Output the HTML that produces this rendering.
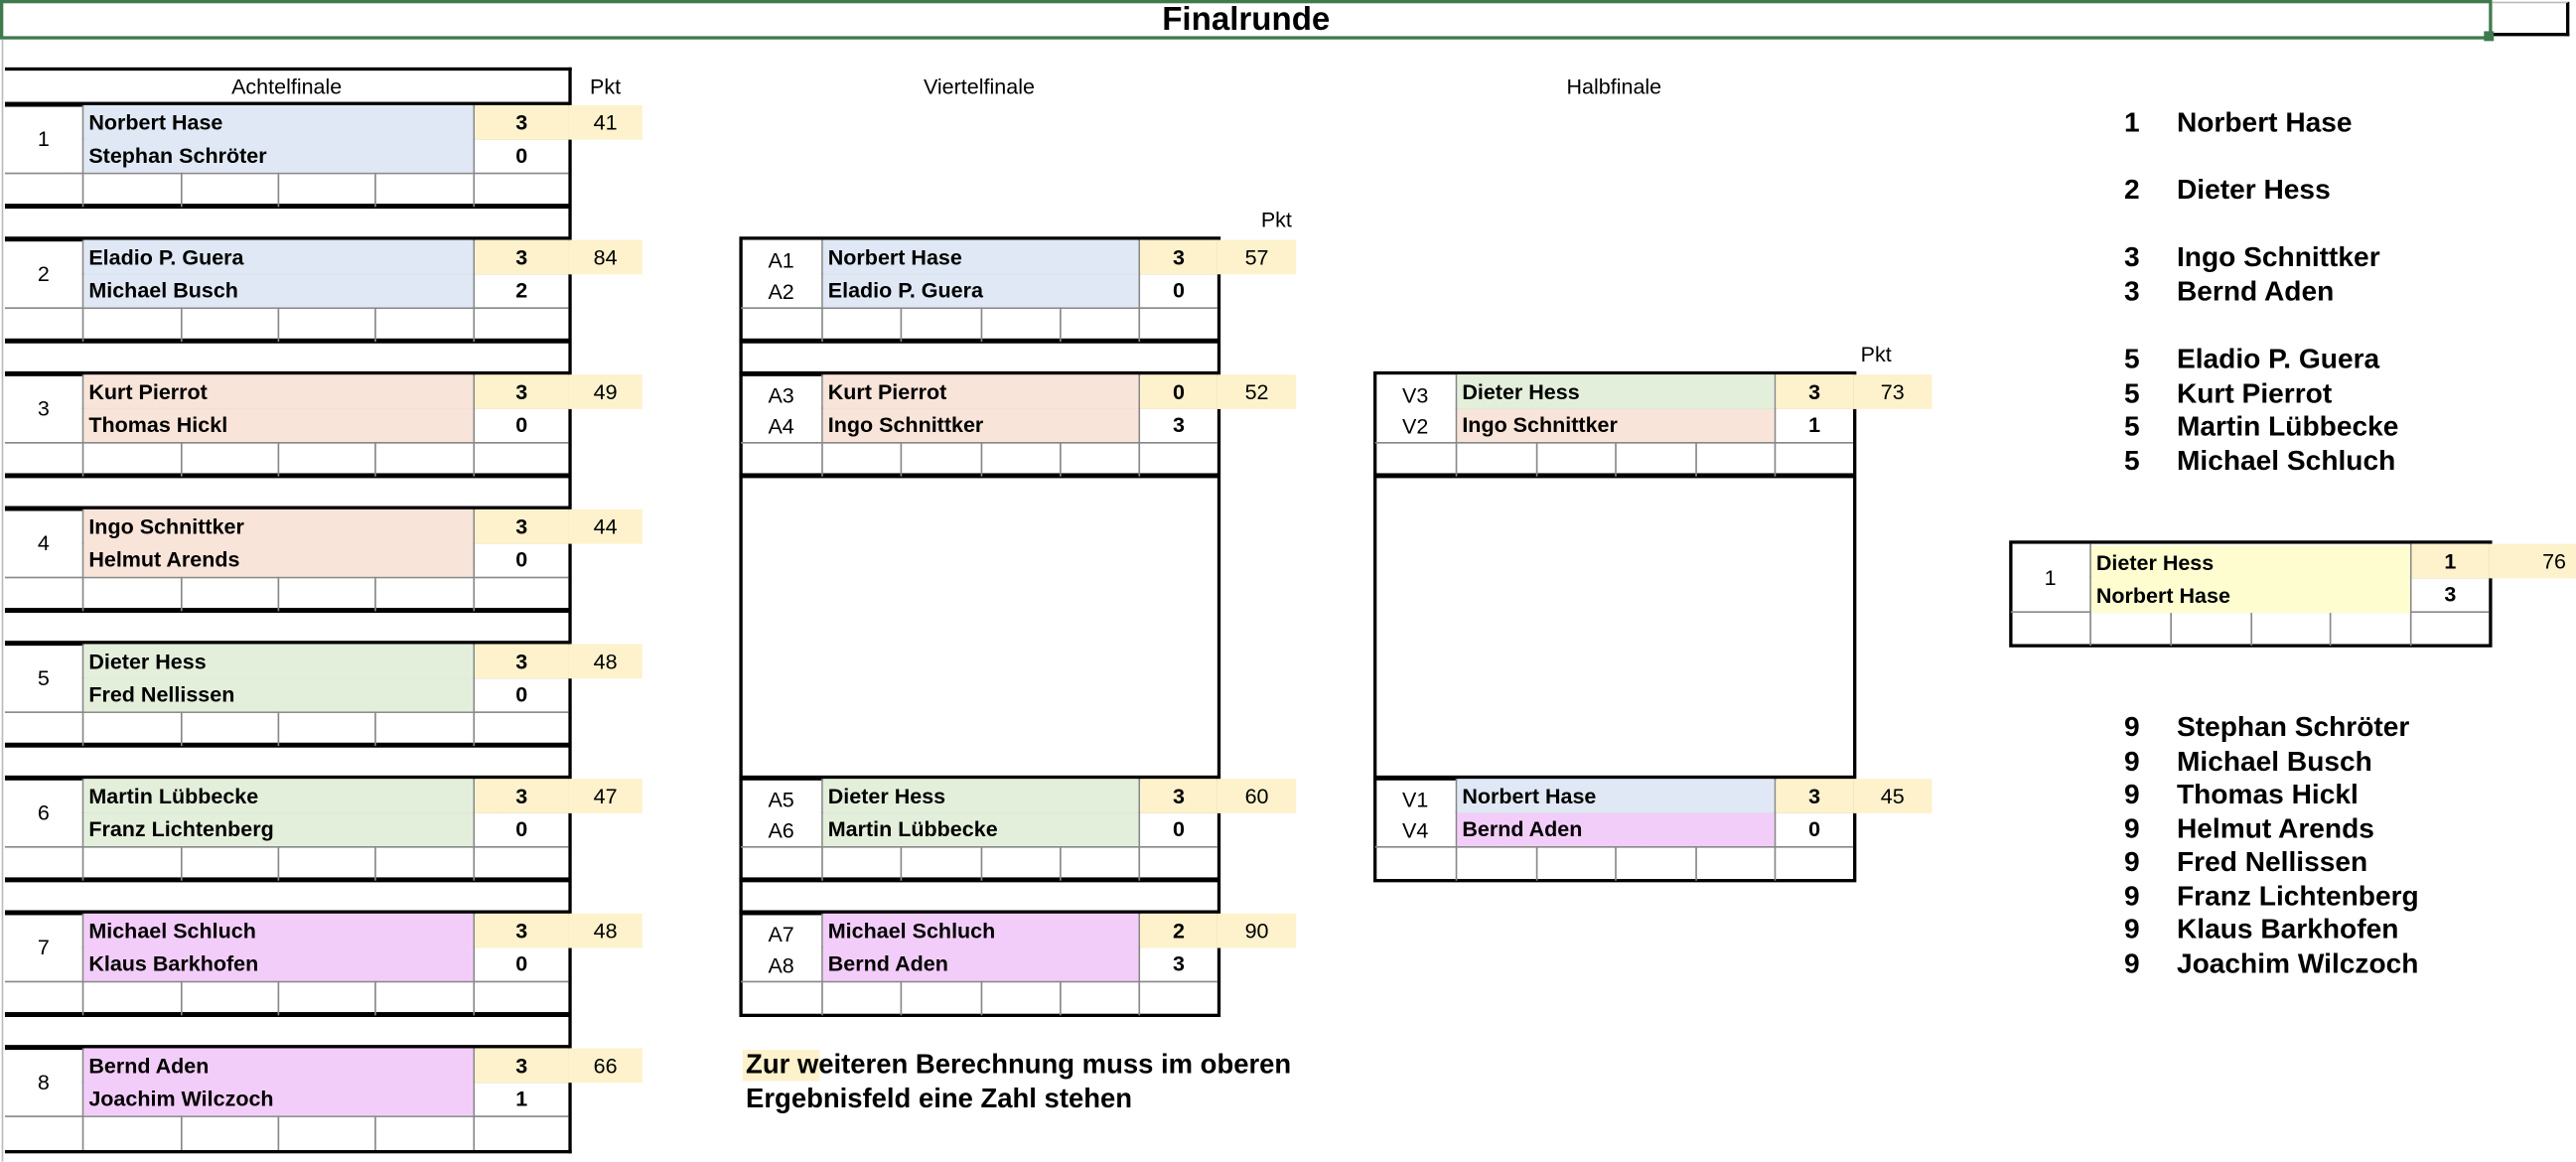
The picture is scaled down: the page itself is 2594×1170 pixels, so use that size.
<!DOCTYPE html>
<html><head><meta charset="utf-8">
<style>
html,body{margin:0;padding:0;background:#fff;width:2594px;height:1170px;overflow:hidden}
#w{position:absolute;left:0;top:0;width:1568px;height:707px;transform:scale(1.6543);transform-origin:0 0;font-family:"Liberation Sans",Arial,sans-serif;color:#000}
#w div{position:absolute;box-sizing:border-box}
.g{height:62px}
.g div{height:20.5px;display:flex;align-items:center;font-size:13px}
.nm{font-weight:bold;padding-left:3px;white-space:nowrap}
.sc{justify-content:center;font-weight:bold}
.pk{justify-content:center;background:#fdf2cc}
.y{background:#fdf2cc}
.bl{background:#dfe8f4}.pe{background:#f8e4d8}.gr{background:#e3efdb}.pi{background:#f3cdf9}.fy{background:#fefdd0}
.num{height:41px!important;justify-content:center}
.lb{justify-content:center}
.a{left:3px;width:343px;
background:linear-gradient(#888,#888) 47px 20px/296px 1px no-repeat,linear-gradient(#888,#888) 0 40.5px/100% 1px no-repeat,
linear-gradient(#888,#888) 47px 0/1px 100% no-repeat,linear-gradient(#888,#888) 285px 0/1px 100% no-repeat,
linear-gradient(#888,#888) 107px 41px/1px 21px no-repeat,linear-gradient(#888,#888) 166px 41px/1px 21px no-repeat,linear-gradient(#888,#888) 225px 41px/1px 21px no-repeat}
.a .num{left:0;width:47px}
.a .nm{left:48px;width:237px}
.a .sc{left:286px;width:57px}
.a .pk{left:343px;width:45px}
.v{left:451px;width:290px;
background:linear-gradient(#888,#888) 49px 20px/241px 1px no-repeat,linear-gradient(#888,#888) 0 40.5px/100% 1px no-repeat,
linear-gradient(#888,#888) 49px 0/1px 100% no-repeat,linear-gradient(#888,#888) 242px 0/1px 100% no-repeat,
linear-gradient(#888,#888) 97px 41px/1px 21px no-repeat,linear-gradient(#888,#888) 146px 41px/1px 21px no-repeat,linear-gradient(#888,#888) 194px 41px/1px 21px no-repeat}
.v .lb{left:0;width:49px}
.v .nm{left:50px;width:192px}
.v .sc{left:243px;width:47px}
.v .pk{left:290px;width:48px}
.h{left:837px;width:291px;
background:linear-gradient(#888,#888) 49px 20px/242px 1px no-repeat,linear-gradient(#888,#888) 0 40.5px/100% 1px no-repeat,
linear-gradient(#888,#888) 49px 0/1px 100% no-repeat,linear-gradient(#888,#888) 243px 0/1px 100% no-repeat,
linear-gradient(#888,#888) 98px 41px/1px 21px no-repeat,linear-gradient(#888,#888) 146px 41px/1px 21px no-repeat,linear-gradient(#888,#888) 195px 41px/1px 21px no-repeat}
.h .lb{left:0;width:49px}
.h .nm{left:50px;width:193px}
.h .sc{left:244px;width:47px}
.h .pk{left:291px;width:48px}
.f{left:1224px;width:291px;
background:linear-gradient(#888,#888) 48px 20px/243px 1px no-repeat,linear-gradient(#888,#888) 0 40.5px/100% 1px no-repeat,
linear-gradient(#888,#888) 48px 0/1px 100% no-repeat,linear-gradient(#888,#888) 243px 0/1px 100% no-repeat,
linear-gradient(#888,#888) 97px 41px/1px 21px no-repeat,linear-gradient(#888,#888) 146px 41px/1px 21px no-repeat,linear-gradient(#888,#888) 194px 41px/1px 21px no-repeat}
.f .num{left:0;width:48px}
.f .nm{left:49px;width:194px}
.f .sc{left:244px;width:47px}
.f .pk{left:291px;width:53px;justify-content:flex-end;padding-right:6px}
.th{height:2.5px;background:#000}
.fr{border:2.5px solid #000}
.t{font-size:13px;white-space:nowrap}
.r{font-size:17px;font-weight:bold;white-space:nowrap}
</style></head><body><div id="w">
<!-- title -->
<div style="left:0;top:0;width:1517px;height:24px;border:2px solid #3f7a4c;display:flex;align-items:center;justify-content:center;font-weight:bold;font-size:20px">Finalrunde</div>
<div style="left:1517px;top:1px;width:47px;height:21px;border-right:2px solid #000;border-bottom:2px solid #000;border-top:1px solid #bbb"></div>
<div style="left:1512px;top:19px;width:6px;height:6px;background:#3f7a4c"></div>
<div style="left:1px;top:24px;width:1px;height:683px;background:#bbb"></div>

<!-- headers -->
<div class="t" style="left:3px;top:45px;width:343px;text-align:center">Achtelfinale</div>
<div class="t" style="left:346px;top:45px;width:45px;text-align:center">Pkt</div>
<div class="t" style="left:451px;top:45px;width:290px;text-align:center">Viertelfinale</div>
<div class="t" style="left:741px;top:126px;width:72px;text-align:center">Pkt</div>
<div class="t" style="left:837px;top:45px;width:291px;text-align:center">Halbfinale</div>
<div class="t" style="left:1128px;top:208px;width:28px;text-align:center">Pkt</div>

<!-- Achtelfinale frame -->
<div style="left:3px;top:41px;width:345px;height:661px;border-top:2.5px solid #000;border-right:2.5px solid #000;border-bottom:2.5px solid #000"></div>
<div class="th" style="left:3px;top:62px;width:344px"></div>
<div class="th" style="left:3px;top:124px;width:344px"></div><div class="th" style="left:3px;top:144px;width:344px"></div>
<div class="th" style="left:3px;top:206px;width:344px"></div><div class="th" style="left:3px;top:226px;width:344px"></div>
<div class="th" style="left:3px;top:288px;width:344px"></div><div class="th" style="left:3px;top:308px;width:344px"></div>
<div class="th" style="left:3px;top:370px;width:344px"></div><div class="th" style="left:3px;top:390px;width:344px"></div>
<div class="th" style="left:3px;top:452px;width:344px"></div><div class="th" style="left:3px;top:472px;width:344px"></div>
<div class="th" style="left:3px;top:534px;width:344px"></div><div class="th" style="left:3px;top:554px;width:344px"></div>
<div class="th" style="left:3px;top:616px;width:344px"></div><div class="th" style="left:3px;top:636px;width:344px"></div>

<div class="g a" style="top:64px"><div class="num">1</div>
<div class="nm bl" style="top:0">Norbert Hase</div><div class="sc y" style="top:0">3</div><div class="pk" style="top:0">41</div>
<div class="nm bl" style="top:20.5px">Stephan Schröter</div><div class="sc" style="top:20.5px">0</div></div>

<div class="g a" style="top:146px"><div class="num">2</div>
<div class="nm bl" style="top:0">Eladio P. Guera</div><div class="sc y" style="top:0">3</div><div class="pk" style="top:0">84</div>
<div class="nm bl" style="top:20.5px">Michael Busch</div><div class="sc" style="top:20.5px">2</div></div>

<div class="g a" style="top:228px"><div class="num">3</div>
<div class="nm pe" style="top:0">Kurt Pierrot</div><div class="sc y" style="top:0">3</div><div class="pk" style="top:0">49</div>
<div class="nm pe" style="top:20.5px">Thomas Hickl</div><div class="sc" style="top:20.5px">0</div></div>

<div class="g a" style="top:310px"><div class="num">4</div>
<div class="nm pe" style="top:0">Ingo Schnittker</div><div class="sc y" style="top:0">3</div><div class="pk" style="top:0">44</div>
<div class="nm pe" style="top:20.5px">Helmut Arends</div><div class="sc" style="top:20.5px">0</div></div>

<div class="g a" style="top:392px"><div class="num">5</div>
<div class="nm gr" style="top:0">Dieter Hess</div><div class="sc y" style="top:0">3</div><div class="pk" style="top:0">48</div>
<div class="nm gr" style="top:20.5px">Fred Nellissen</div><div class="sc" style="top:20.5px">0</div></div>

<div class="g a" style="top:474px"><div class="num">6</div>
<div class="nm gr" style="top:0">Martin Lübbecke</div><div class="sc y" style="top:0">3</div><div class="pk" style="top:0">47</div>
<div class="nm gr" style="top:20.5px">Franz Lichtenberg</div><div class="sc" style="top:20.5px">0</div></div>

<div class="g a" style="top:556px"><div class="num">7</div>
<div class="nm pi" style="top:0">Michael Schluch</div><div class="sc y" style="top:0">3</div><div class="pk" style="top:0">48</div>
<div class="nm pi" style="top:20.5px">Klaus Barkhofen</div><div class="sc" style="top:20.5px">0</div></div>

<div class="g a" style="top:638px"><div class="num">8</div>
<div class="nm pi" style="top:0">Bernd Aden</div><div class="sc y" style="top:0">3</div><div class="pk" style="top:0">66</div>
<div class="nm pi" style="top:20.5px">Joachim Wilczoch</div><div class="sc" style="top:20.5px">1</div></div>

<!-- Viertelfinale -->
<div class="fr" style="left:450px;top:144px;width:293px;height:475px"></div>
<div class="th" style="left:450px;top:206px;width:292px"></div><div class="th" style="left:450px;top:226px;width:292px"></div>
<div class="th" style="left:450px;top:288px;width:292px"></div><div class="th" style="left:450px;top:472px;width:292px"></div>
<div class="th" style="left:450px;top:534px;width:292px"></div><div class="th" style="left:450px;top:554px;width:292px"></div>

<div class="g v" style="top:146px"><div class="lb" style="top:2px">A1</div><div class="lb" style="top:21px">A2</div>
<div class="nm bl" style="top:0">Norbert Hase</div><div class="sc y" style="top:0">3</div><div class="pk" style="top:0">57</div>
<div class="nm bl" style="top:20.5px">Eladio P. Guera</div><div class="sc" style="top:20.5px">0</div></div>

<div class="g v" style="top:228px"><div class="lb" style="top:2px">A3</div><div class="lb" style="top:21px">A4</div>
<div class="nm pe" style="top:0">Kurt Pierrot</div><div class="sc y" style="top:0">0</div><div class="pk" style="top:0">52</div>
<div class="nm pe" style="top:20.5px">Ingo Schnittker</div><div class="sc" style="top:20.5px">3</div></div>

<div class="g v" style="top:474px"><div class="lb" style="top:2px">A5</div><div class="lb" style="top:21px">A6</div>
<div class="nm gr" style="top:0">Dieter Hess</div><div class="sc y" style="top:0">3</div><div class="pk" style="top:0">60</div>
<div class="nm gr" style="top:20.5px">Martin Lübbecke</div><div class="sc" style="top:20.5px">0</div></div>

<div class="g v" style="top:556px"><div class="lb" style="top:2px">A7</div><div class="lb" style="top:21px">A8</div>
<div class="nm pi" style="top:0">Michael Schluch</div><div class="sc y" style="top:0">2</div><div class="pk" style="top:0">90</div>
<div class="nm pi" style="top:20.5px">Bernd Aden</div><div class="sc" style="top:20.5px">3</div></div>

<!-- Halbfinale -->
<div class="fr" style="left:836px;top:226px;width:294px;height:311px"></div>
<div class="th" style="left:836px;top:288px;width:293px"></div><div class="th" style="left:836px;top:472px;width:293px"></div>

<div class="g h" style="top:228px"><div class="lb" style="top:2px">V3</div><div class="lb" style="top:21px">V2</div>
<div class="nm gr" style="top:0">Dieter Hess</div><div class="sc y" style="top:0">3</div><div class="pk" style="top:0">73</div>
<div class="nm pe" style="top:20.5px">Ingo Schnittker</div><div class="sc" style="top:20.5px">1</div></div>

<div class="g h" style="top:474px"><div class="lb" style="top:2px">V1</div><div class="lb" style="top:21px">V4</div>
<div class="nm bl" style="top:0">Norbert Hase</div><div class="sc y" style="top:0">3</div><div class="pk" style="top:0">45</div>
<div class="nm pi" style="top:20.5px">Bernd Aden</div><div class="sc" style="top:20.5px">0</div></div>

<!-- Final -->
<div class="fr" style="left:1223px;top:329px;width:294px;height:65px"></div>
<div class="g f" style="top:331px"><div class="num">1</div>
<div class="nm fy" style="top:1px">Dieter Hess</div><div class="sc y" style="top:0">1</div><div class="pk" style="top:0">76</div>
<div class="nm fy" style="top:21px">Norbert Hase</div><div class="sc" style="top:20px">3</div></div>

<!-- note -->
<div style="left:452px;top:639px;width:47px;height:19px;background:#fdf2cc"></div>
<div class="r" style="left:454px;top:638px;font-size:16.6px;line-height:20.5px">Zur weiteren Berechnung muss im oberen<br>Ergebnisfeld eine Zahl stehen</div>

<!-- ranking -->
<div class="r" style="left:1293px;top:65px;line-height:20.5px">1</div><div class="r" style="left:1325px;top:65px;line-height:20.5px">Norbert Hase</div>
<div class="r" style="left:1293px;top:106px;line-height:20.5px">2</div><div class="r" style="left:1325px;top:106px;line-height:20.5px">Dieter Hess</div>
<div class="r" style="left:1293px;top:147px;line-height:20.5px">3<br>3</div><div class="r" style="left:1325px;top:147px;line-height:20.5px">Ingo Schnittker<br>Bernd Aden</div>
<div class="r" style="left:1293px;top:209px;line-height:20.5px">5<br>5<br>5<br>5</div><div class="r" style="left:1325px;top:209px;line-height:20.5px">Eladio P. Guera<br>Kurt Pierrot<br>Martin Lübbecke<br>Michael Schluch</div>
<div class="r" style="left:1293px;top:433px;line-height:20.5px">9<br>9<br>9<br>9<br>9<br>9<br>9<br>9</div>
<div class="r" style="left:1325px;top:433px;line-height:20.5px">Stephan Schröter<br>Michael Busch<br>Thomas Hickl<br>Helmut Arends<br>Fred Nellissen<br>Franz Lichtenberg<br>Klaus Barkhofen<br>Joachim Wilczoch</div>
</div></body></html>
